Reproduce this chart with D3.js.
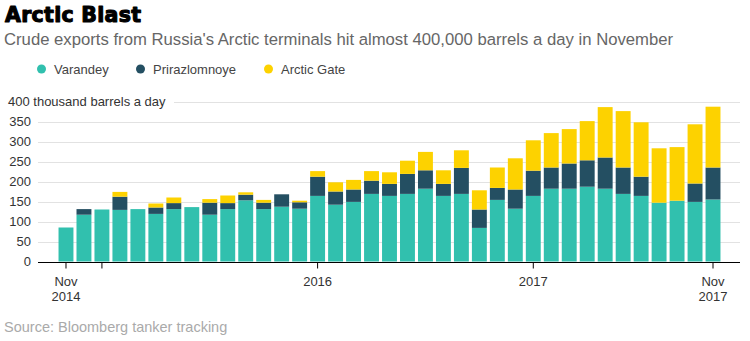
<!DOCTYPE html>
<html>
<head>
<meta charset="utf-8">
<script src="https://cdn.jsdelivr.net/npm/d3@7"></script>
<style>
  html, body { margin: 0; padding: 0; background: #fff; }
  svg { display: block; font-family: "Liberation Sans", Arial, sans-serif; }
</style>
</head>
<body>
<svg id="chart" width="750" height="341"></svg>
<script>
// Monthly crude exports, thousand barrels a day
const months = [
  "2014-11","2014-12","2015-01","2015-02","2015-03","2015-04","2015-05","2015-06",
  "2015-07","2015-08","2015-09","2015-10","2015-11","2015-12","2016-01","2016-02",
  "2016-03","2016-04","2016-05","2016-06","2016-07","2016-08","2016-09","2016-10",
  "2016-11","2016-12","2017-01","2017-02","2017-03","2017-04","2017-05","2017-06",
  "2017-07","2017-08","2017-09","2017-10","2017-11"
];
const varandey = [85,117,130,129,131,119,131,136,117,131,153,131,137,132,164,142,149,169,164,169,182,164,169,84,154,132,164,182,182,187,182,169,164,147,152,149,155];
const prirazlomnoye = [0,14,0,33,0,16,15,0,30,15,14,16,31,16,48,33,31,33,30,50,46,30,65,46,30,48,63,53,63,66,78,66,48,0,0,46,80];
const arcticGate = [0,0,0,12,0,10,14,0,9,19,6,7,0,4,14,23,24,24,29,33,46,34,44,48,51,78,76,86,86,98,126,141,136,136,134,148,152];

const seriesNames = ["Varandey", "Prirazlomnoye", "Arctic Gate"];
const seriesColors = ["#31c0ae", "#244f62", "#fdd200"];
const yTicks = [0, 50, 100, 150, 200, 250, 300, 350, 400];
const xTickMonths = ["2014-11", "2015-01", "2016-01", "2017-01", "2017-11"];
const xTickLabels = {
  "2014-11": ["Nov", "2014"],
  "2015-01": [],
  "2016-01": ["2016"],
  "2017-01": ["2017"],
  "2017-11": ["Nov", "2017"]
};

const rows = months.map((m, i) => ({
  month: m,
  "Varandey": varandey[i],
  "Prirazlomnoye": prirazlomnoye[i],
  "Arctic Gate": arcticGate[i]
}));

const svg = d3.select("#chart");

// Titles
svg.append("text")
  .attr("x", 5).attr("y", 21.5)
  .attr("font-family", "'DejaVu Sans', sans-serif")
  .attr("font-weight", 700)
  .attr("font-size", 20.5)
  .attr("letter-spacing", 0.3)
  .attr("fill", "#000")
  .attr("stroke", "#000")
  .attr("stroke-width", 1.1)
  .attr("stroke-linejoin", "round")
  .text("Arctic Blast");

svg.append("text")
  .attr("x", 4).attr("y", 45)
  .attr("font-size", 16.7)
  .attr("fill", "#666")
  .text("Crude exports from Russia's Arctic terminals hit almost 400,000 barrels a day in November");

// Legend
const legendX = [41.5, 140.5, 268.5];
const legend = svg.append("g");
seriesNames.forEach((name, i) => {
  legend.append("circle")
    .attr("cx", legendX[i]).attr("cy", 69)
    .attr("r", 4.5)
    .attr("fill", seriesColors[i]);
  legend.append("text")
    .attr("x", legendX[i] + 12.5).attr("y", 73.5)
    .attr("font-size", 13)
    .attr("fill", "#444")
    .text(name);
});

// Scales
const x = d3.scaleBand()
  .domain(months)
  .range([57, 722])
  .paddingInner(0.17)
  .paddingOuter(0.085);

const y = d3.scaleLinear()
  .domain([0, 400])
  .range([261.5, 101.5]);

const plotLeft = 38, plotRight = 740;

// Grid lines and y labels
const grid = svg.append("g");
yTicks.filter(t => t > 0).forEach(t => {
  grid.append("line")
    .attr("x1", t === 400 ? 174 : plotLeft)
    .attr("x2", plotRight)
    .attr("y1", Math.round(y(t)) + 0.5)
    .attr("y2", Math.round(y(t)) + 0.5)
    .attr("stroke", "#e2e2e2")
    .attr("stroke-width", 1);
});
yTicks.forEach(t => {
  const label = grid.append("text")
    .attr("y", y(t))
    .attr("dy", "0.35em")
    .attr("font-size", 13)
    .attr("fill", "#333");
  if (t === 400) {
    label.attr("x", 8).attr("text-anchor", "start").text("400 thousand barrels a day");
  } else {
    label.attr("x", 31).attr("text-anchor", "end").text(t);
  }
});

// Stacked bars
const stack = d3.stack().keys(seriesNames);
const stacked = stack(rows);

svg.append("g")
  .selectAll("g")
  .data(stacked)
  .join("g")
  .attr("fill", (d, i) => seriesColors[i])
  .selectAll("rect")
  .data(d => d.filter(s => s[1] - s[0] > 0))
  .join("rect")
  .attr("x", d => x(d.data.month))
  .attr("width", x.bandwidth())
  .attr("y", d => y(d[1]))
  .attr("height", d => y(d[0]) - y(d[1]));

// X axis
const xAxis = d3.axisBottom(x)
  .tickValues(xTickMonths)
  .tickSize(6)
  .tickFormat(() => "");

const axisG = svg.append("g")
  .attr("transform", `translate(0,${Math.round(y(0)) + 0.5})`)
  .call(xAxis);
axisG.select(".domain").remove();
axisG.selectAll(".tick line").attr("stroke", "#000");

axisG.append("line")
  .attr("x1", plotLeft).attr("x2", plotRight)
  .attr("y1", 0).attr("y2", 0)
  .attr("stroke", "#000");

axisG.selectAll(".tick text").remove();
axisG.selectAll(".tick").each(function(m) {
  const lines = xTickLabels[m];
  const t = d3.select(this).append("text")
    .attr("text-anchor", "middle")
    .attr("font-size", 13)
    .attr("fill", "#333")
    .attr("y", 23);
  lines.forEach((ln, k) => {
    t.append("tspan").attr("x", 0).attr("dy", k === 0 ? 0 : 15).text(ln);
  });
});

// Source
svg.append("text")
  .attr("x", 4).attr("y", 332)
  .attr("font-size", 14.5)
  .attr("fill", "#aaa")
  .text("Source: Bloomberg tanker tracking");
</script>
</body>
</html>
